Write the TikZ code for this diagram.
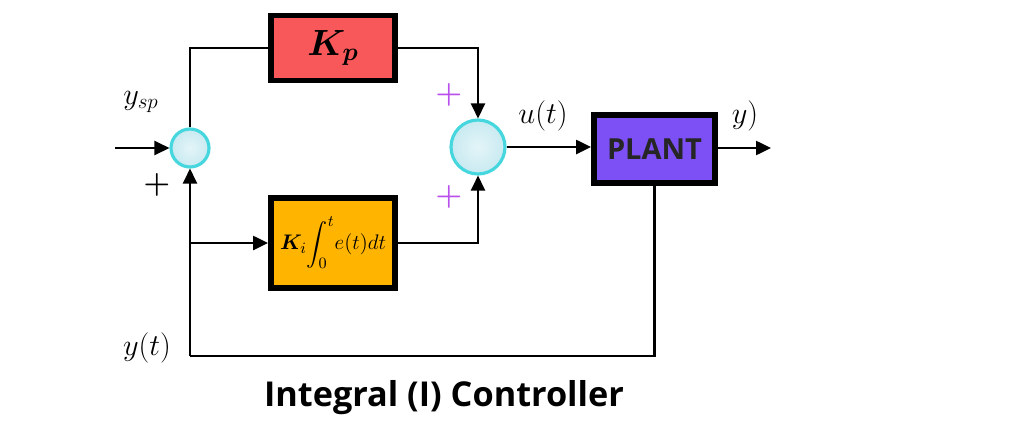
\documentclass[tikz,border=0pt]{standalone}
\usepackage{amsmath,bm}
\usepackage{fontspec}
\newfontfamily\titlefont{Open Sans}
\usetikzlibrary{arrows.meta,positioning,calc}
\definecolor{kpred}{RGB}{248,88,90}
\definecolor{kiorange}{RGB}{255,180,0}
\definecolor{plantpurple}{RGB}{124,80,244}
\definecolor{sumfill}{RGB}{200,234,241}
\definecolor{sumedge}{RGB}{70,215,222}
\definecolor{plusviolet}{RGB}{185,80,235}
\tikzset{
  blockbox/.style={draw=black, line width=3.4pt, inner sep=0pt},
  sumnode/.style={circle, draw=sumedge, line width=1.8pt, inner sep=0pt,
     inner color=sumfill!50!white, outer color=sumfill},
  conn/.style={line width=1.2pt, draw=black},
  arr/.style={conn, -{Triangle[length=8.5pt,width=8pt]}},
  mlabel/.style={font=\fontsize{18}{21}\selectfont, inner sep=0pt},
  plusv/.style={text=plusviolet, font=\fontsize{18}{21}\selectfont, inner sep=0pt},
}
\begin{document}
\begin{tikzpicture}[x=0.02cm,y=-0.02cm]
\useasboundingbox (0,0) rectangle (1024,433);
% summing junctions
\node[sumnode, minimum size=0.76cm] (s1) at (190,148) {};
\node[sumnode, minimum size=1.08cm] (s2) at (478,147) {};
% blocks
\node[blockbox, fill=kpred, minimum width=2.48cm, minimum height=1.3cm] (kp) at (333,48)
  {\fontsize{20}{24}\selectfont$\bm{K_p}$};
\node[blockbox, fill=kiorange, minimum width=2.48cm, minimum height=1.8cm] (ki) at (333,243)
  {\fontsize{12.5}{15}\selectfont$\displaystyle\bm{K}_{i}\!\int_{0}^{t}\! e(t)dt$};
\node[blockbox, fill=plantpurple, minimum width=2.42cm, minimum height=1.36cm] (plant) at (654.5,149)
  {\titlefont\bfseries\fontsize{16.5}{20}\selectfont\textcolor{black!85}{PLANT}};
% free ends
\coordinate (in) at (115,148);
\coordinate (out) at (771,148);
\coordinate (br) at (190,243);
\coordinate (fb) at (190,356);
% connectors
\draw[arr] (in) -- (s1.west);
\draw[conn] (s1.north) |- (kp.west);
\draw[arr] (kp.east) -| (s2.north);
\draw[arr] (ki.east) -| (s2.south);
\draw[arr] (br) -- (ki.west);
\draw[arr] (s2.east) -- (s2.east -| plant.west);
\draw[arr] (plant.east |- out) -- (out);
\draw[conn] (plant.south) |- (fb);
\draw[arr] (fb) -- (s1.south);
% labels
\node[mlabel] (lysp) at (141,102) {$y_{sp}$};
\node[font=\fontsize{18}{21}\selectfont, inner sep=0pt] (lplus) at (157,185) {$\bm{+}$};
\node[plusv] (p1) at (449,95) {$\bm{+}$};
\node[plusv] (p2) at (449,197) {$\bm{+}$};
\node[mlabel] (lu) at (543,116) {$u(t)$};
\node[mlabel] (ly) at (745,116) {$y)$};
\node[mlabel] (lyt) at (147,348) {$y(t)$};
\node[inner sep=0pt] (title) at (444,398) {\titlefont\bfseries\fontsize{19.5}{23}\selectfont Integral (I) Controller};
\end{tikzpicture}
\end{document}
